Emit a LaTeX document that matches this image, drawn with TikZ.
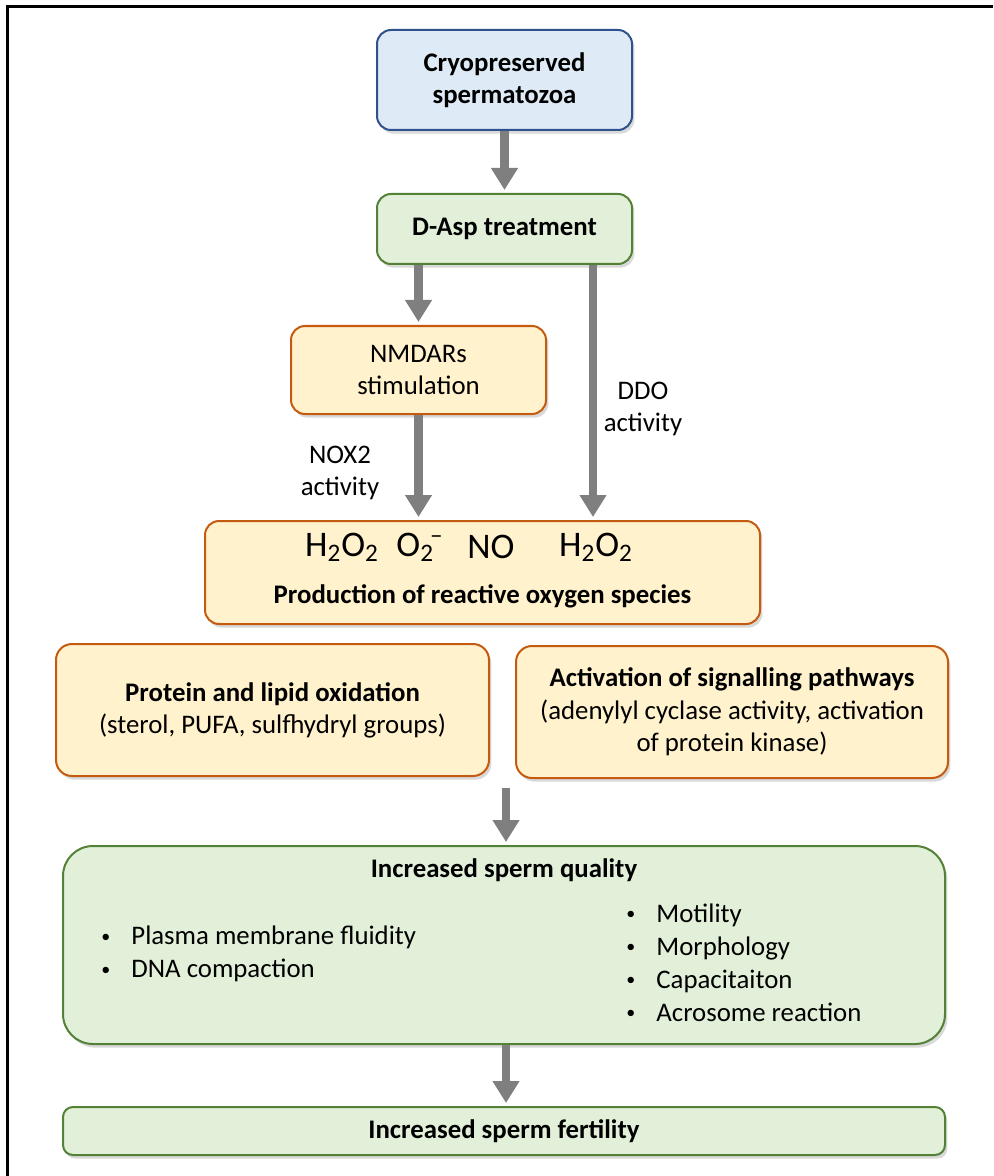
\documentclass[tikz,border=0pt]{standalone}
\usepackage{fontspec}
\setmainfont{Carlito}
\usetikzlibrary{arrows.meta,positioning,calc,shadows}
\definecolor{SpermBlue}{HTML}{DEEBF7}
\definecolor{SpermBlueLine}{HTML}{2F528F}
\definecolor{SpermGreen}{HTML}{E2F0D9}
\definecolor{SpermGreenLine}{HTML}{538135}
\definecolor{SpermOrange}{HTML}{FFF2CC}
\definecolor{SpermOrangeLine}{HTML}{C55A11}
\definecolor{SpermGrey}{HTML}{7F7F7F}
\newcommand{\spbul}{\makebox[15pt][l]{\raisebox{1.2pt}{\fontsize{9}{9}\selectfont\textbullet}}}

\begin{document}
\begin{tikzpicture}[x=.5pt,y=-.5pt]
\tikzset{b/.style={draw,line width=1pt,rounded corners=7pt,align=center,inner sep=0pt,font=\fontsize{13.4}{16}\selectfont,drop shadow={shadow xshift=1.2pt,shadow yshift=-1.8pt,opacity=.3}},blu/.style={b,fill=SpermBlue,draw=SpermBlueLine},grn/.style={b,fill=SpermGreen,draw=SpermGreenLine},org/.style={b,fill=SpermOrange,draw=SpermOrangeLine},t/.style={font=\fontsize{13.4}{16}\selectfont,align=center,inner sep=0pt},f/.style={font=\fontsize{18}{20}\selectfont,inner sep=0pt},a/.style={-{Triangle[width=12.8pt,length=11pt]},SpermGrey,line width=4.3pt,shorten >=1.5pt}}
\useasboundingbox (0,0) rectangle (993,1176);
\draw[line width=1.5pt] (7,1176) -- (7,7) -- (993,7);
% boxes
\node[blu,minimum width=127.5pt,minimum height=50pt] (cryo) at (504.5,80) {\bfseries Cryopreserved\\\bfseries spermatozoa};
\node[grn,minimum width=127.5pt,minimum height=35pt] (dasp) at (504.5,229) {\bfseries D-Asp treatment};
\node[org,minimum width=127.5pt,minimum height=44pt] (nmdar) at (418.5,370) {NMDARs\\stimulation};
\node[org,minimum width=277.5pt,minimum height=51.5pt] (ros) at (482.5,572.5) {};
\node[f] (f1) at (342,547) {H\textsubscript{2}O\textsubscript{2}};
\node[f] (f2) at (420,547) {O\textsubscript{2}\kern-2pt\textsuperscript{--}};
\node[f] (f3) at (491,547) {NO};
\node[f] (f4) at (596,547) {H\textsubscript{2}O\textsubscript{2}};
\node[t] (rost) at (482.5,596) {\bfseries Production of reactive oxygen species};
\node[org,rounded corners=8pt,minimum width=216.5pt,minimum height=66pt] (oxid) at (272.5,710) {\bfseries Protein and lipid oxidation\\(sterol, PUFA, sulfhydryl groups)};
\node[org,rounded corners=8pt,minimum width=216pt,minimum height=66pt,font=\fontsize{13.4}{16.3}\selectfont] (sig) at (732,712) {\bfseries Activation of signalling pathways\\(adenylyl cyclase activity, activation\\of protein kinase)};
\node[grn,rounded corners=15pt,minimum width=441pt,minimum height=99pt] (qual) at (504,945) {};
\node[t] (qualt) at (504,870) {\bfseries Increased sperm quality};
\node[t,anchor=west,align=left,font=\fontsize{13.4}{16.5}\selectfont] (qleft) at (101,954) {\spbul Plasma membrane fluidity\\\spbul DNA compaction};
\node[t,anchor=west,align=left,font=\fontsize{13.4}{16.5}\selectfont] (qright) at (626,962.5) {\spbul Motility\\\spbul Morphology\\\spbul Capacitaiton\\\spbul Acrosome reaction};
\node[grn,rounded corners=5pt,minimum width=441pt,minimum height=24pt] (fert) at (504,1131) {\bfseries Increased sperm fertility};
% labels
\node[t] (nox) at (340,473) {NOX2\\activity};
\node[t] (ddo) at (643,409) {DDO\\activity};
% arrows
\coordinate (q0) at (506,788);
\draw[a] (cryo) -- (dasp);
\draw[a] (nmdar.north |- dasp.south) -- (nmdar.north);
\draw[a] ([xshift=44.25pt]dasp.south) -- ([xshift=44.25pt]dasp.south |- ros.north);
\draw[a] (nmdar.south) -- (nmdar.south |- ros.north);
\draw[a] (q0) -- (q0 |- qual.north);
\draw[a] (qual.south -| q0) -- (q0 |- fert.north);
\end{tikzpicture}
\end{document}
